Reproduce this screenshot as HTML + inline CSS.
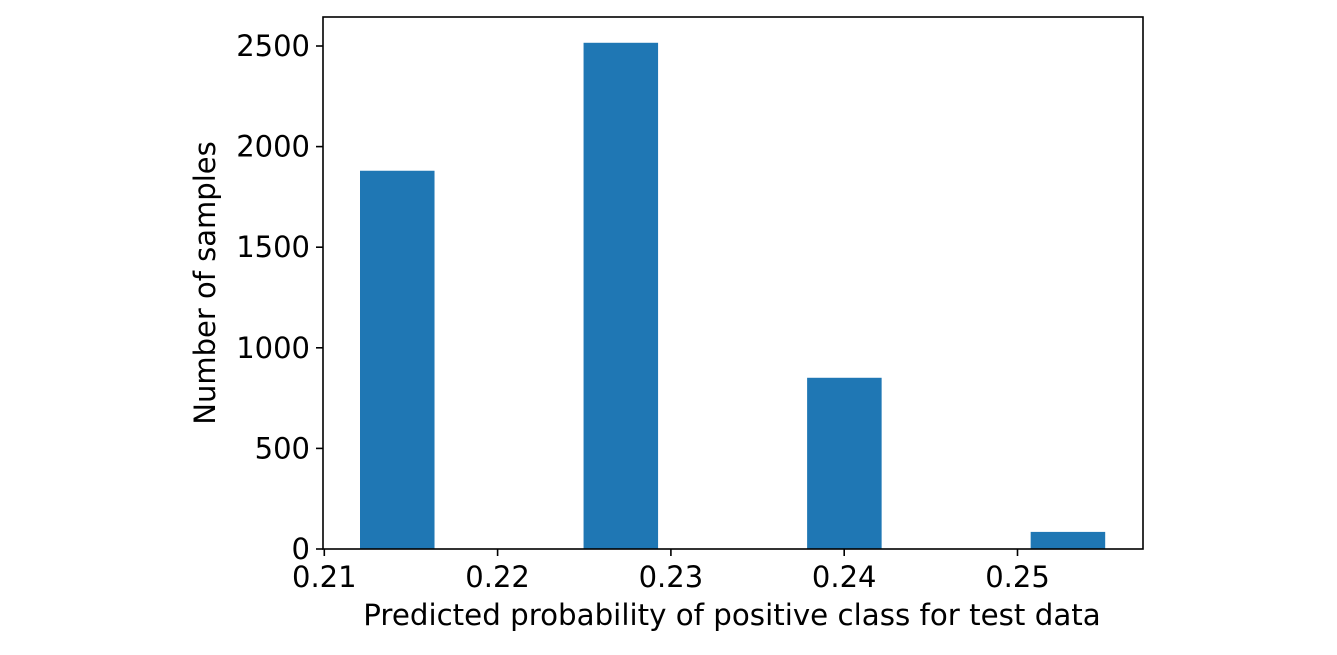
<!DOCTYPE html>
<html><head><meta charset="utf-8"><style>
html,body{margin:0;padding:0;background:#fff;}
svg text{font-family:"DejaVu Sans","Liberation Sans",sans-serif;fill:#000;}
</style></head><body>
<svg id="chart" width="1337" height="650" xmlns="http://www.w3.org/2000/svg"></svg>
<script>
const binEdges = [0.21206,0.21636,0.22066,0.22496,0.22926,0.23356,0.23786,0.24216,0.24646,0.25076,0.25506];
const counts = [1880,0,0,2516,0,0,851,0,0,85];
const xTicks = [0.21,0.22,0.23,0.24,0.25];
const xTickLabels = ["0.21","0.22","0.23","0.24","0.25"];
const yTicks = [0,500,1000,1500,2000,2500];
const yTickLabels = ["0","500","1000","1500","2000","2500"];

const L=323,R=1143,T=17,B=549;
const x0=0.21,px0=324.3,pxPer=17330;
const xs=v=>px0+(v-x0)*pxPer;
const ys=v=>B-v*0.2012;
const svg=document.getElementById('chart');
const NS='http://www.w3.org/2000/svg';
function mk(tag,attrs){const e=document.createElementNS(NS,tag);for(const k in attrs)e.setAttribute(k,attrs[k]);svg.appendChild(e);return e;}

for(let i=0;i<counts.length;i++){
  if(counts[i]<=0)continue;
  const r=mk('rect',{x:xs(binEdges[i]),y:ys(counts[i]),width:xs(binEdges[i+1])-xs(binEdges[i]),height:B-ys(counts[i]),fill:'#1f77b4'});
  
  
}
const frame=mk('rect',{x:L,y:T,width:R-L,height:B-T,fill:'none',stroke:'#000','stroke-width':1.6});



xTicks.forEach((v,i)=>{
  const x=xs(v);
  mk('line',{x1:x,x2:x,y1:B,y2:B+7,stroke:'#000','stroke-width':1.6});
  const t=mk('text',{x:x,y:B+38,'text-anchor':'middle','font-size':29});
  t.textContent=xTickLabels[i];
  
  
});
yTicks.forEach((v,i)=>{
  const y=ys(v);
  mk('line',{x1:L-7,x2:L,y1:y,y2:y,stroke:'#000','stroke-width':1.6});
  const t=mk('text',{x:L-13,y:y+10,'text-anchor':'end','font-size':29});
  t.textContent=yTickLabels[i];
  
  
});
const xt=mk('text',{x:732,y:625,'text-anchor':'middle','font-size':29.3});
xt.textContent='Predicted probability of positive class for test data';


const yt=mk('text',{x:0,y:0,'text-anchor':'middle','font-size':29,transform:'translate(215,283) rotate(-90)'});
yt.textContent='Number of samples';


</script>
</body></html>
